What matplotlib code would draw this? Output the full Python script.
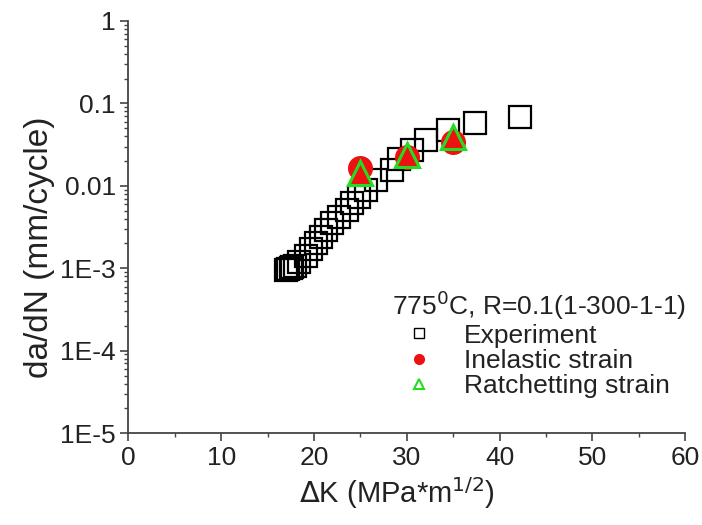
import matplotlib
matplotlib.use("Agg")
import matplotlib.pyplot as plt
from matplotlib.ticker import LogLocator, FixedLocator, NullFormatter

plt.rcParams['font.family'] = ['Liberation Sans', 'DejaVu Sans']

# experiment data
exp_dk = [17.0, 17.2, 17.5, 17.6, 18.0, 18.4, 19.1, 19.7, 20.2, 20.8, 21.3, 21.9,
          22.7, 23.5, 24.1, 24.9, 25.6, 26.7, 28.4, 29.2, 30.6, 32.1, 34.4, 37.3, 42.2]
exp_rate = [0.00095, 0.00098, 0.00100, 0.00103, 0.00108, 0.0012, 0.0014, 0.0017, 0.0020,
            0.0024, 0.0029, 0.0035, 0.0042, 0.0051, 0.0062, 0.0074, 0.0089, 0.0118,
            0.0156, 0.021, 0.027, 0.036, 0.048, 0.058, 0.069]
# model predictions
model_dk = [25, 30, 35]
inelastic_rate = [0.0165, 0.0225, 0.034]
ratchet_rate = [0.0145, 0.024, 0.039]

y_ticks = [1e-5, 1e-4, 1e-3, 1e-2, 1e-1, 1]
y_labels = ['1E-5', '1E-4', '1E-3', '0.01', '0.1', '1']
x_ticks = [0, 10, 20, 30, 40, 50, 60]

fig = plt.figure(figsize=(7.02, 5.25), dpi=100)
ax = fig.add_axes([0.183, 0.175, 0.793, 0.785])

ax.plot(exp_dk, exp_rate, 's', ms=15.5, mfc='none', mec='black', mew=1.6,
        label='Experiment')
ax.plot(model_dk, inelastic_rate, 'o', ms=18, color='#ee1111', mec='none',
        label='Inelastic strain')
ax.plot(model_dk, ratchet_rate, '^', ms=17, mfc='#ee1111', mec='#22dd22', mew=2.2,
        label='Ratchetting strain')

ax.set_yscale('log')
ax.set_xlim(0, 60)
ax.set_ylim(1e-5, 1)
ax.set_xticks(x_ticks)
ax.xaxis.set_minor_locator(FixedLocator([5, 15, 25, 35, 45, 55]))
ax.set_yticks(y_ticks)
ax.set_yticklabels(y_labels)
ax.yaxis.set_minor_locator(LogLocator(base=10, subs=range(2, 10), numticks=20))
ax.yaxis.set_minor_formatter(NullFormatter())

for s in ['top', 'right']:
    ax.spines[s].set_visible(False)
for s in ['left', 'bottom']:
    ax.spines[s].set_color('#444444')
    ax.spines[s].set_linewidth(1.3)
ax.tick_params(which='major', direction='out', length=6, width=1.2, color='#444444',
               labelsize=19, labelcolor='#222222', pad=3)
ax.tick_params(which='minor', direction='out', length=3, width=1.0, color='#444444')

ax.set_xlabel(r'$\Delta$K (MPa*m$^{1/2}$)', fontsize=21, color='#222222', labelpad=4)
ax.set_ylabel('da/dN (mm/cycle)', fontsize=24, color='#222222', labelpad=4)
ax.xaxis.label.set_x(0.483)
ax.yaxis.label.set_y(0.45)

leg = ax.legend(loc='lower right', bbox_to_anchor=(1.035, 0.04), frameon=False,
                fontsize=19, handlelength=2.0, handletextpad=0.73, labelspacing=0.05,
                borderpad=0.2, title=r'775$^0$C, R=0.1(1-300-1-1)', title_fontsize=19,
                alignment='left')
leg.get_title().set_color('#222222')
for t in leg.get_texts():
    t.set_color('#222222')
h = leg.legend_handles
h[0].set_markersize(6.5)
h[0].set_markeredgewidth(1.0)
h[1].set_markersize(8)
h[2].set_markersize(7.5)
h[2].set_markerfacecolor('none')
h[2].set_markeredgewidth(1.5)

fig.savefig('out.png', dpi=100)
